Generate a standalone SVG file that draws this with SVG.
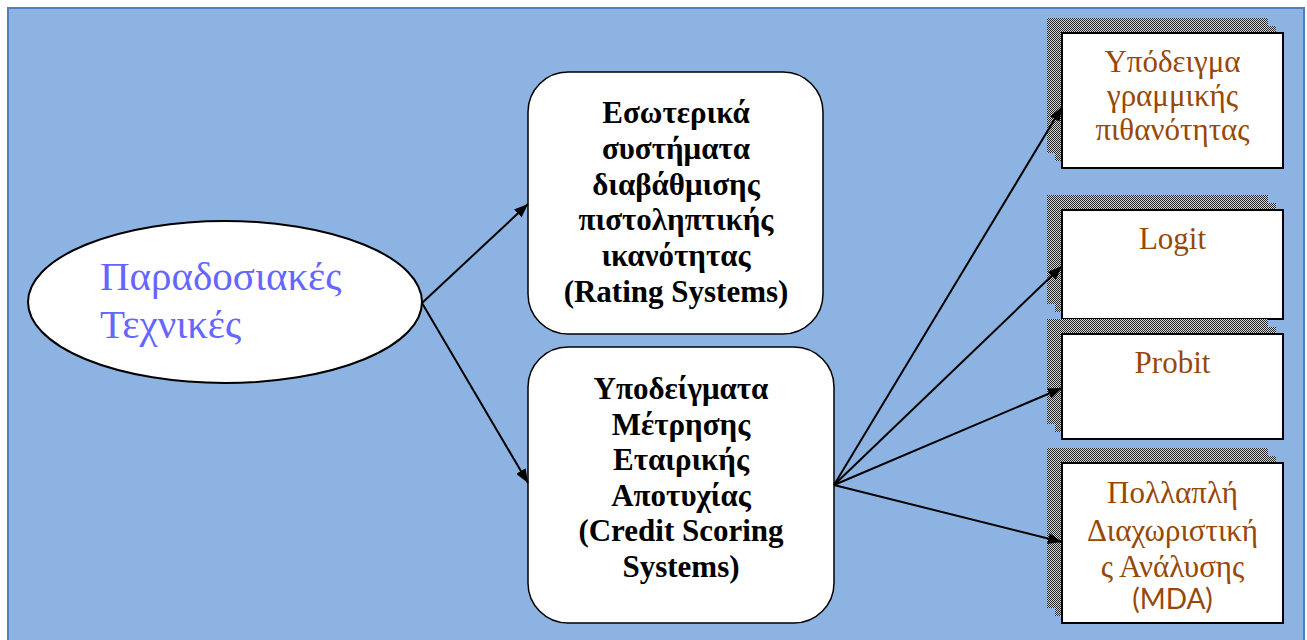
<svg xmlns="http://www.w3.org/2000/svg" width="1307" height="640" viewBox="0 0 1307 640">
  <defs>
    <pattern id="dots" patternUnits="userSpaceOnUse" x="0" y="0" width="2" height="2">
      <rect width="2" height="2" fill="#d8d8d8"/>
      <rect width="1" height="1" fill="#222"/>
      <rect x="1" y="1" width="1" height="1" fill="#222"/>
    </pattern>
    <marker id="arrow" viewBox="0 0 14 11" refX="14" refY="5.5" markerWidth="14" markerHeight="11" markerUnits="userSpaceOnUse" orient="auto">
      <path d="M0,0 L14,5.5 L0,11 Z" fill="#000"/>
    </marker>
    <style>
      .panel { fill: #8db3e2; stroke: #4f81bd; stroke-width: 2; }
      .oval { fill: #fff; stroke: #000; stroke-width: 2; }
      .rbox { fill: #fff; stroke: #000; stroke-width: 1.5; }
      .sbox { fill: #fff; stroke: #000; stroke-width: 2; }
      .shadow { fill: url(#dots); }
      .conn line { stroke: #000; stroke-width: 2; marker-end: url(#arrow); }
      .title { font-size: 41px; fill: #6666ff; }
      .bold { font-size: 31px; font-weight: bold; fill: #000; text-anchor: middle; }
      .brown { font-size: 31px; fill: #984806; text-anchor: middle; }
      .brown-sans { font-size: 28px; fill: #984806; text-anchor: middle; }
    </style>
  </defs>

  <rect class="panel" x="8" y="8" width="1296" height="640"/>

  <g id="traditional" font-family="Liberation Serif, serif">
    <ellipse class="oval" cx="225" cy="302" rx="197" ry="81"/>
    <text class="title" x="100" y="290">Παραδοσιακές</text>
    <text class="title" x="100" y="338">Τεχνικές</text>
  </g>

  <g id="rating-systems" font-family="Liberation Serif, serif">
    <rect class="rbox" x="528" y="72" width="295" height="262" rx="40" ry="40"/>
    <text class="bold" x="676" y="123">Εσωτερικά</text>
    <text class="bold" x="676" y="159">συστήματα</text>
    <text class="bold" x="676" y="195">διαβάθμισης</text>
    <text class="bold" x="676" y="230">πιστοληπτικής</text>
    <text class="bold" x="676" y="266">ικανότητας</text>
    <text class="bold" x="676" y="302">(Rating Systems)</text>
  </g>

  <g id="credit-scoring" font-family="Liberation Serif, serif">
    <rect class="rbox" x="528" y="347" width="306" height="276" rx="40" ry="40"/>
    <text class="bold" x="681" y="399">Υποδείγματα</text>
    <text class="bold" x="681" y="435">Μέτρησης</text>
    <text class="bold" x="681" y="470">Εταιρικής</text>
    <text class="bold" x="681" y="506">Αποτυχίας</text>
    <text class="bold" x="681" y="541">(Credit Scoring</text>
    <text class="bold" x="681" y="577">Systems)</text>
  </g>

  <g id="linear-probability" font-family="Liberation Serif, serif">
    <rect class="shadow" x="1047" y="18" width="221" height="135"/>
    <rect class="shadow" x="1055" y="26" width="221" height="135"/>
    <rect class="sbox" x="1062" y="33" width="221" height="135"/>
    <text class="brown" x="1172.5" y="72">Υπόδειγμα</text>
    <text class="brown" x="1172.5" y="106">γραμμικής</text>
    <text class="brown" x="1172.5" y="140">πιθανότητας</text>
  </g>

  <g id="logit" font-family="Liberation Serif, serif">
    <rect class="shadow" x="1047" y="195" width="221" height="109"/>
    <rect class="shadow" x="1055" y="203" width="221" height="109"/>
    <rect class="sbox" x="1062" y="210" width="221" height="109"/>
    <text class="brown" x="1172.5" y="249">Logit</text>
  </g>

  <g id="probit" font-family="Liberation Serif, serif">
    <rect class="shadow" x="1047" y="319" width="221" height="105"/>
    <rect class="shadow" x="1055" y="327" width="221" height="105"/>
    <rect class="sbox" x="1062" y="334" width="221" height="105"/>
    <text class="brown" x="1172.5" y="373">Probit</text>
  </g>

  <g id="mda" font-family="Liberation Serif, serif">
    <rect class="shadow" x="1047" y="448" width="221" height="160"/>
    <rect class="shadow" x="1055" y="456" width="221" height="160"/>
    <rect class="sbox" x="1062" y="463" width="221" height="160"/>
    <text class="brown" x="1172.5" y="503">Πολλαπλή</text>
    <text class="brown" x="1172.5" y="541">Διαχωριστική</text>
    <text class="brown" x="1172.5" y="577">ς Ανάλυσης</text>
    <text class="brown-sans" x="1172.5" y="609" font-family="Lato, Liberation Sans, sans-serif">(MDA)</text>
  </g>

  <g id="connectors" class="conn">
    <line x1="422" y1="303" x2="528" y2="204"/>
    <line x1="422" y1="303" x2="528" y2="483"/>
    <line x1="834" y1="485" x2="1062" y2="107"/>
    <line x1="834" y1="485" x2="1062" y2="266"/>
    <line x1="834" y1="485" x2="1062" y2="388"/>
    <line x1="834" y1="485" x2="1062" y2="542"/>
  </g>
</svg>
